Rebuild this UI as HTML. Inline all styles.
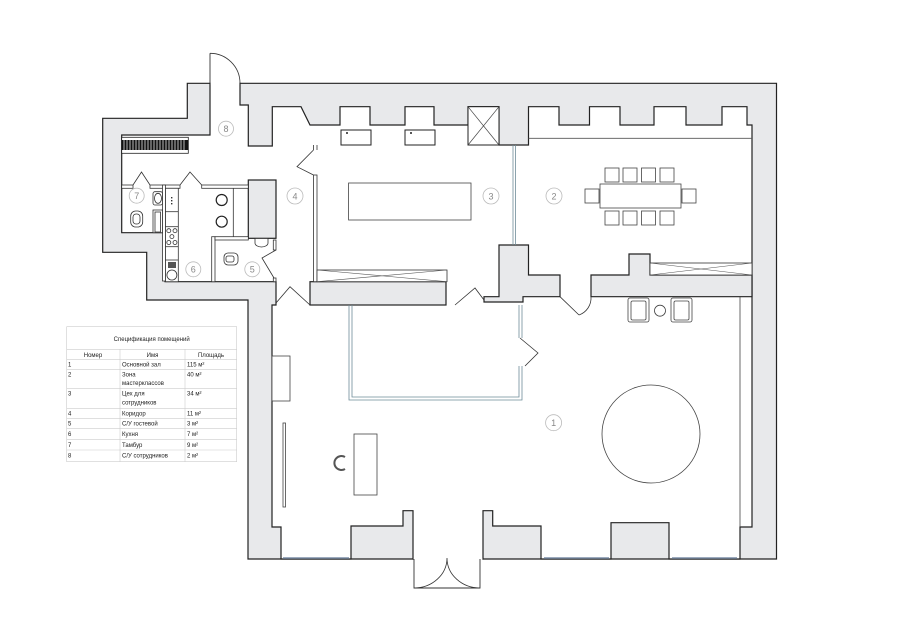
<!DOCTYPE html>
<html><head><meta charset="utf-8"><style>
html,body{margin:0;padding:0;background:#fff;}
svg{display:block;font-family:"Liberation Sans","DejaVu Sans",sans-serif;}
</style></head><body>
<svg width="900" height="635" viewBox="0 0 900 635" xmlns="http://www.w3.org/2000/svg">
<rect width="900" height="635" fill="#fff"/>
<!-- outer walls -->
<polygon points="102.7,118.3 187.3,118.3 187.3,83.3 776.5,83.3 776.5,559 248,559 248,300 146.7,300 146.7,252.3 102.7,252.3" fill="#e8e9eb" stroke="#222" stroke-width="1.2"/>
<!-- interior -->
<polygon points="121.7,135 210,135 210,83.3 240,83.3 240,105 248.3,105 248.3,146 272.3,146 272.3,106.7 301,106.7 310,125 340,125 340,106.7 370,106.7 370,125 405,125 405,106.7 434,106.7 434,125 468,125 468,106.7 499,106.7 499,145 528.5,145 528.5,106.7 559,106.7 559,125 589.5,125 589.5,106.7 620,106.7 620,125 654,125 654,106.7 686,106.7 686,125 722,125 722,106.7 747,106.7 747,125 752,125 752,527 740,527 740,559 669,559 669,522.7 611,522.7 611,559 541,559 541,526 492.7,526 492.7,510.7 483,510.7 483,559 413,559 413,510.7 403,510.7 403,526 351,526 351,559 281,559 281,527 272,527 272,305 276,305 276,281.7 165,281.7 165,232.7 121.7,232.7" fill="#fff" stroke="#222" stroke-width="1.2"/>
<!-- door openings in outer line -->
<line x1="210.6" y1="83.3" x2="239.4" y2="83.3" stroke="#fff" stroke-width="2"/>
<line x1="413.6" y1="559" x2="482.4" y2="559" stroke="#fff" stroke-width="2"/>
<!-- interior gray walls -->
<rect x="310" y="281.7" width="136" height="23.3" fill="#e8e9eb" stroke="#222" stroke-width="1.2"/>
<polygon points="499,245 528.5,245 528.5,275 560,275 560,296.7 523,296.7 523,302 484,302 484,296.7 499,296.7" fill="#e8e9eb" stroke="#222" stroke-width="1.2"/>
<polygon points="591,275 629,275 629,254 650,254 650,275 752,275 752,296.7 591,296.7" fill="#e8e9eb" stroke="#222" stroke-width="1.2"/>
<rect x="248.3" y="180" width="27.7" height="58.3" fill="#e8e9eb" stroke="#222" stroke-width="1.2"/>
<!-- room 2 top line, right hall inner line -->
<line x1="528.5" y1="138.3" x2="752" y2="138.3" stroke="#555" stroke-width="0.8"/>
<line x1="740" y1="297" x2="740" y2="527" stroke="#444" stroke-width="0.8"/>
<!-- glass partitions -->
<g stroke="#6f8c99" fill="none" stroke-width="0.8">
<line x1="513" y1="145" x2="513" y2="245"/><line x1="515.5" y1="145" x2="515.5" y2="245"/>
<polyline points="349,305 349,400 522,400 522,366"/><polyline points="352,305 352,397 519,397 519,366"/>
<polyline points="522,305 522,338"/><polyline points="519,305 519,338"/>
</g>
<polyline points="520,338 538,353 525,366" fill="none" stroke="#333" stroke-width="0.8"/>
<!-- bottom windows -->
<g stroke="#7d8fa8" stroke-width="1.5"><line x1="283" y1="558" x2="349" y2="558"/><line x1="544" y1="558" x2="609" y2="558"/><line x1="672" y1="558" x2="737" y2="558"/></g>
<!-- entrance -->
<polyline points="414,559 414,588 480,588 480,559" fill="none" stroke="#333" stroke-width="0.9"/>
<path d="M414,588 A33,30 0 0 0 447,558 A33,30 0 0 0 480,588" fill="none" stroke="#333" stroke-width="0.8"/>
<!-- top door room 8 -->
<line x1="210" y1="83.3" x2="210" y2="53.3" stroke="#333" stroke-width="0.9"/>
<path d="M210,53.3 A30,30 0 0 1 240,83.3" fill="none" stroke="#333" stroke-width="0.8"/>
<!-- doors zigzag -->
<g fill="none" stroke="#333" stroke-width="0.8">
<polyline points="313.5,150 297,166.7 313.5,175"/>
<polyline points="276,303 290,286.7 310,305"/>
<polyline points="455,305 475,288 484,300"/>
<polyline points="560,296.7 579,315"/><path d="M579,315 A18,18 0 0 0 591,296.7"/>
<polyline points="133,185 141.5,172 150,185"/>
<polyline points="180,185 190,172 201.7,185"/>
<polyline points="276,250 262,258 274,278"/>
</g>
<!-- room 4 partition -->
<rect x="313.5" y="175" width="3.5" height="106.7" fill="#fff" stroke="#333" stroke-width="0.8"/>
<line x1="313.5" y1="145" x2="313.5" y2="150" stroke="#333" stroke-width="0.8"/><line x1="317" y1="145" x2="317" y2="150" stroke="#333" stroke-width="0.8"/>
<!-- left wing thin walls -->
<g fill="#fff" stroke="#333" stroke-width="0.8">
<rect x="121.7" y="185" width="11.3" height="3.3"/>
<rect x="150" y="185" width="30" height="3.3"/>
<rect x="201.7" y="185" width="46.6" height="3.3"/>
<rect x="162.5" y="185" width="3" height="96"/>
<rect x="211.7" y="236.7" width="3.3" height="45"/>
<rect x="215" y="236.7" width="33.3" height="3.3"/>
<rect x="273.3" y="240" width="2.7" height="10"/>
<rect x="273.3" y="278" width="2.7" height="3.7"/>
</g>
<line x1="233.3" y1="188" x2="233.3" y2="236.7" stroke="#333" stroke-width="0.8"/>
<!-- radiator -->
<rect x="121.7" y="137.3" width="66.6" height="16" fill="#fff" stroke="#222" stroke-width="0.8"/>
<rect x="121.7" y="140" width="66.6" height="10" fill="#111"/>
<g stroke="#fff" stroke-width="0.7">
<line x1="124" y1="140" x2="124" y2="150"/><line x1="127" y1="140" x2="127" y2="150"/><line x1="130" y1="140" x2="130" y2="150"/><line x1="133" y1="140" x2="133" y2="150"/><line x1="136" y1="140" x2="136" y2="150"/><line x1="139" y1="140" x2="139" y2="150"/><line x1="142" y1="140" x2="142" y2="150"/><line x1="145" y1="140" x2="145" y2="150"/><line x1="148" y1="140" x2="148" y2="150"/><line x1="151" y1="140" x2="151" y2="150"/><line x1="154" y1="140" x2="154" y2="150"/><line x1="157" y1="140" x2="157" y2="150"/><line x1="160" y1="140" x2="160" y2="150"/><line x1="163" y1="140" x2="163" y2="150"/><line x1="166" y1="140" x2="166" y2="150"/><line x1="169" y1="140" x2="169" y2="150"/><line x1="172" y1="140" x2="172" y2="150"/><line x1="175" y1="140" x2="175" y2="150"/><line x1="178" y1="140" x2="178" y2="150"/><line x1="181" y1="140" x2="181" y2="150"/><line x1="184" y1="140" x2="184" y2="150"/>
</g>
<!-- bath 7 fixtures -->
<g fill="#fff" stroke="#333" stroke-width="0.8">
<rect x="130.7" y="211" width="12" height="16" rx="5"/><rect x="133" y="214" width="7" height="10" rx="3"/>
<rect x="153" y="191.7" width="9.5" height="13.3" rx="2"/><ellipse cx="158" cy="198.3" rx="3.5" ry="5"/>
<rect x="153" y="210" width="9.5" height="22.7"/><rect x="155" y="212" width="5.5" height="20"/>
</g>
<!-- kitchen column -->
<g fill="#fff" stroke="#333" stroke-width="0.8">
<rect x="165.5" y="188.3" width="12.8" height="93.4"/>
<line x1="165.5" y1="211.7" x2="178.3" y2="211.7"/>
<line x1="165.5" y1="226.7" x2="178.3" y2="226.7"/>
<line x1="165.5" y1="246.7" x2="178.3" y2="246.7"/>
<line x1="165.5" y1="260" x2="178.3" y2="260"/>
<circle cx="168.8" cy="230.7" r="2"/><circle cx="175" cy="230.7" r="2"/><circle cx="168.8" cy="242.5" r="2"/><circle cx="175" cy="242.5" r="2"/><circle cx="171.9" cy="236.6" r="2"/>
<circle cx="171.9" cy="275" r="5"/>
</g>
<g fill="#333"><rect x="171" y="197" width="1.4" height="1.4"/><rect x="171" y="200" width="1.4" height="1.4"/><rect x="171" y="203" width="1.4" height="1.4"/></g>
<rect x="168" y="262" width="8" height="6" fill="#555"/>
<!-- room 6 chairs -->
<g fill="#fff" stroke="#222" stroke-width="1.2"><circle cx="221.7" cy="200" r="5.5"/><circle cx="221.7" cy="221.7" r="5.5"/></g>
<!-- bath 5 fixtures -->
<g fill="#fff" stroke="#333" stroke-width="0.8">
<path d="M255,238.5 L268,238.5 L268,243 A6.5,4 0 0 1 255,243 Z"/>
<rect x="224" y="253" width="14" height="12" rx="4"/><rect x="226" y="256" width="8" height="6" rx="2"/>
</g>
<!-- top sinks & shaft -->
<g fill="#fff" stroke="#222" stroke-width="1">
<rect x="341" y="130" width="30" height="15"/><rect x="405" y="130" width="30" height="15"/>
<rect x="468" y="106.7" width="31" height="38.3"/>
</g>
<circle cx="347" cy="133" r="1" fill="#222"/><circle cx="411" cy="133" r="1" fill="#222"/>
<line x1="468" y1="106.7" x2="499" y2="145" stroke="#444" stroke-width="0.7"/><line x1="499" y1="106.7" x2="468" y2="145" stroke="#444" stroke-width="0.7"/>
<!-- X boxes -->
<g fill="#fff" stroke="#333" stroke-width="0.8">
<rect x="317" y="270" width="130" height="11.7"/><rect x="650" y="263" width="102" height="12"/>
</g>
<g stroke="#555" stroke-width="0.6"><line x1="317" y1="270" x2="447" y2="281.7"/><line x1="317" y1="281.7" x2="447" y2="270"/><line x1="650" y1="263" x2="752" y2="275"/><line x1="650" y1="275" x2="752" y2="263"/></g>
<!-- room 3 table -->
<rect x="348.6" y="183" width="122.4" height="37" fill="#fff" stroke="#444" stroke-width="0.8"/>
<!-- room 2 table & chairs -->
<g fill="#fff" stroke="#444" stroke-width="0.8">
<rect x="600" y="184" width="81" height="24"/>
<rect x="605" y="168" width="14" height="14"/><rect x="623" y="168" width="14" height="14"/><rect x="641.5" y="168" width="14" height="14"/><rect x="660" y="168" width="14" height="14"/>
<rect x="605" y="211" width="14" height="14"/><rect x="623" y="211" width="14" height="14"/><rect x="641.5" y="211" width="14" height="14"/><rect x="660" y="211" width="14" height="14"/>
<rect x="585" y="189" width="14" height="14"/><rect x="682" y="189" width="14" height="14"/>
</g>
<!-- hall furniture -->
<g fill="#fff" stroke="#444" stroke-width="0.8">
<rect x="272" y="356" width="18" height="45"/>
<rect x="283" y="423" width="2.5" height="84"/>
<rect x="354" y="434" width="23" height="61"/>
<circle cx="651" cy="434" r="49"/>
<rect x="628" y="298" width="21" height="24" rx="2"/><rect x="631" y="301" width="15" height="19" rx="1.5"/>
<rect x="671" y="298" width="21" height="24" rx="2"/><rect x="674" y="301" width="15" height="19" rx="1.5"/>
<circle cx="660" cy="310.7" r="5.5"/>
</g>
<path d="M345,457 A7,7 0 1 0 345,469" fill="none" stroke="#555" stroke-width="2"/>
<!-- labels -->
<g fill="#fff" stroke="#bbb" stroke-width="0.8">
<circle cx="553.6" cy="422.7" r="8"/><circle cx="554" cy="196" r="8"/><circle cx="491" cy="196" r="8"/><circle cx="295" cy="196" r="8"/>
<circle cx="252.3" cy="269.3" r="7.5"/><circle cx="193.3" cy="269.3" r="7.5"/><circle cx="136.7" cy="195.7" r="7.5"/><circle cx="226" cy="128.7" r="7.5"/>
</g>
<g fill="#888" font-size="9" text-anchor="middle">
<text x="553.6" y="426">1</text><text x="554" y="199.3">2</text><text x="491" y="199.3">3</text><text x="295" y="199.3">4</text>
<text x="252.3" y="272.6">5</text><text x="193.3" y="272.6">6</text><text x="136.7" y="199">7</text><text x="226" y="132">8</text>
</g>
<!-- spec table -->
<g fill="none" stroke="#ccc" stroke-width="0.6">
<rect x="66.7" y="326.7" width="170" height="135"/>
<line x1="66.7" y1="349.3" x2="236.7" y2="349.3"/><line x1="66.7" y1="359.3" x2="236.7" y2="359.3"/>
<line x1="66.7" y1="369.3" x2="236.7" y2="369.3"/><line x1="66.7" y1="388.3" x2="236.7" y2="388.3"/>
<line x1="66.7" y1="408.3" x2="236.7" y2="408.3"/><line x1="66.7" y1="418.3" x2="236.7" y2="418.3"/>
<line x1="66.7" y1="428.3" x2="236.7" y2="428.3"/><line x1="66.7" y1="439.3" x2="236.7" y2="439.3"/>
<line x1="66.7" y1="450" x2="236.7" y2="450"/>
<line x1="120" y1="349.3" x2="120" y2="461.7"/><line x1="185" y1="349.3" x2="185" y2="461.7"/>
</g>
<g fill="#222" font-size="6">
<text x="151.7" y="341" text-anchor="middle">Спецификация помещений</text>
<text x="93" y="357" text-anchor="middle">Номер</text><text x="152.5" y="357" text-anchor="middle">Имя</text><text x="211" y="357" text-anchor="middle">Площадь</text>
<text x="68" y="366.5">1</text><text x="122" y="366.5">Основной зал</text><text x="187" y="366.5">115 м²</text>
<text x="68" y="376.5">2</text><text x="122" y="376.5">Зона</text><text x="122" y="385">мастерклассов</text><text x="187" y="376.5">40 м²</text>
<text x="68" y="395.5">3</text><text x="122" y="395.5">Цех для</text><text x="122" y="404.5">сотрудников</text><text x="187" y="395.5">34 м²</text>
<text x="68" y="415.5">4</text><text x="122" y="415.5">Коридор</text><text x="187" y="415.5">11 м²</text>
<text x="68" y="425.5">5</text><text x="122" y="425.5">С/У гостевой</text><text x="187" y="425.5">3 м²</text>
<text x="68" y="436">6</text><text x="122" y="436">Кухня</text><text x="187" y="436">7 м²</text>
<text x="68" y="447">7</text><text x="122" y="447">Тамбур</text><text x="187" y="447">9 м²</text>
<text x="68" y="457.5">8</text><text x="122" y="457.5">С/У сотрудников</text><text x="187" y="457.5">2 м²</text>
</g>
</svg>
</body></html>
